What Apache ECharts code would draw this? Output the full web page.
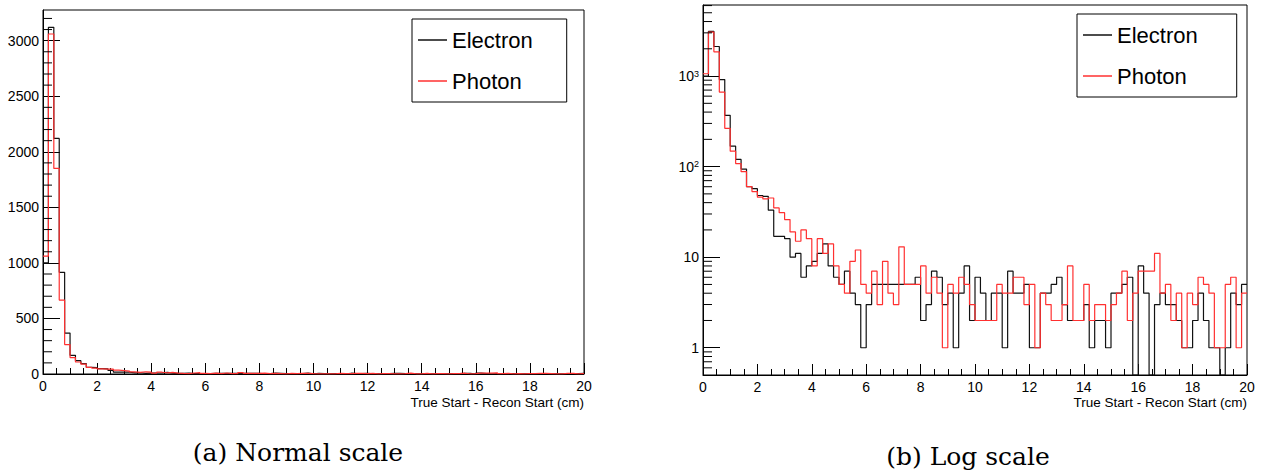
<!DOCTYPE html>
<html><head><meta charset="utf-8">
<script src="https://cdn.jsdelivr.net/npm/echarts@6/dist/echarts.min.js"></script>
<style>html,body{margin:0;padding:0;background:#fff;}#c{width:1265px;height:470px;}</style>
</head><body><div id="c"></div>
<script>
// ---- data: 100 bins of 0.2 cm from 0 to 20 ----
const BIN_WIDTH = 0.2;
const X_MIN = 0, X_MAX = 20;
const seriesNames = ['Electron', 'Photon'];
const electron = [1000,3120,2120,915,368,168,120,94,60,57,
  48,47,33,17,17,16,10,11,6,8,
  9,11,14,8,6,5,7,4,3,1,
  3,5,5,5,5,5,5,5,5,6,
  2,3,7,6,3,4,1,4,8,2,
  6,4,2,4,4,1,7,4,4,5,
  1,1,4,4,5,6,3,2,2,2,
  3,1,2,2,1,4,4,5,6,0,
  8,4,0,3,4,3,3,2,1,1,
  2,4,2,1,1,0,1,4,3,5];
const photon = [1060,3060,1850,665,265,148,108,88,60,53,
  46,44,45,35,31,26,19,15,20,16,
  8,16,11,14,8,5,4,9,12,5,
  4,7,3,9,4,3,13,5,5,5,
  8,4,6,4,1,5,4,6,5,3,
  2,2,2,2,5,4,4,6,6,3,
  5,1,4,3,2,2,3,8,2,2,
  5,2,3,3,2,3,4,7,2,4,
  7,7,7,11,4,5,2,4,1,4,
  3,6,5,4,1,1,5,6,1,4];
const xTickLabels = ['0','2','4','6','8','10','12','14','16','18','20'];
const linTickLabels = ['0','500','1000','1500','2000','2500','3000'];
const LIN_MAX = 3276;
const LOG_MIN = 0.5, LOG_MAX = 6090;

// ---- build step data ----
function stepData(vals, floor) {
  const d = vals.map((v, i) => [+(i * BIN_WIDTH).toFixed(2), floor != null ? Math.max(v, floor) : v]);
  d.push([X_MAX, d[d.length - 1][1]]);
  return d;
}
const logMinor = [];
for (let e = -1; e <= 3; e++) for (let m = 2; m <= 9; m++) {
  const v = +(m * Math.pow(10, e)).toPrecision(3);
  if (v > LOG_MIN && v < LOG_MAX) logMinor.push([0, v]);
}
const linMinor = [];
for (let v = 100; v < LIN_MAX; v += 100) if (v % 500 !== 0) linMinor.push([0, v]);

const FONT = '"Liberation Sans", Arial, Helvetica, sans-serif';
const colors = {Electron: '#111111', Photon: '#ff3030'};

function xAxis(gi) {
  return {
    type: 'value', gridIndex: gi, min: X_MIN, max: X_MAX, interval: 2,
    axisLine: {show: true, lineStyle: {color: '#000', width: 1}},
    axisTick: {show: true, inside: true, length: 11, lineStyle: {color: '#000'}},
    minorTick: {show: true, splitNumber: 4, length: 6, lineStyle: {color: '#000'}},
    splitLine: {show: false}, minorSplitLine: {show: false},
    axisLabel: {color: '#000', fontSize: 14, fontFamily: FONT, margin: 5,
      formatter: v => xTickLabels[Math.round(v / 2)] ?? ''}
  };
}
function minorTickSeries(xi, yi, data) {
  return {name: 'minorTicks' + yi, type: 'custom', xAxisIndex: xi, yAxisIndex: yi, silent: true,
    data: data, encode: {x: 0, y: 1}, z: 5,
    renderItem: (params, api) => {
      const p = api.coord([0, api.value(1)]);
      return {type: 'line', shape: {x1: p[0], y1: p[1], x2: p[0] + 9, y2: p[1]}, style: {stroke: '#000', lineWidth: 1}};
    }};
}

const option = {
  animation: false,
  grid: [
    {left: 43, top: 10, width: 541, height: 364, show: true, borderColor: '#000', borderWidth: 1, backgroundColor: 'transparent'},
    {left: 703, top: 5, width: 544, height: 370, show: true, borderColor: '#000', borderWidth: 1, backgroundColor: 'transparent'}
  ],
  xAxis: [xAxis(0), xAxis(1)],
  yAxis: [
    {type: 'value', gridIndex: 0, min: 0, max: LIN_MAX, interval: 500,
      axisLine: {show: true, lineStyle: {color: '#000'}},
      axisTick: {show: true, inside: true, length: 17, lineStyle: {color: '#000'}},
      splitLine: {show: false},
      axisLabel: {color: '#000', fontSize: 14, fontFamily: FONT, margin: 4, showMaxLabel: false,
        formatter: v => linTickLabels[Math.round(v / 500)] ?? ''}},
    {type: 'log', logBase: 10, gridIndex: 1, min: LOG_MIN, max: LOG_MAX,
      axisLine: {show: true, lineStyle: {color: '#000'}},
      axisTick: {show: true, inside: true, length: 17, lineStyle: {color: '#000'}},
      splitLine: {show: false},
      axisLabel: {color: '#000', fontSize: 14, fontFamily: FONT, margin: 4,
        showMinLabel: false, showMaxLabel: false,
        formatter: v => {
          const l = Math.log10(v), r = Math.round(l);
          if (Math.abs(l - r) > 1e-6) return '';
          if (r === 0) return '1';
          if (r === 1) return '10';
          return '10{sup|' + r + '}';
        },
        rich: {sup: {fontSize: 9, fontFamily: FONT, color: '#000', verticalAlign: 'top'}}}}
  ],
  legend: [
    {left: 412, top: 19, orient: 'vertical', data: seriesNames, icon: 'rect', itemWidth: 29, itemHeight: 1.5,
      itemGap: 19, padding: [10, 34, 10, 6], borderColor: '#000', borderWidth: 1, backgroundColor: '#fff',
      textStyle: {fontSize: 22, fontFamily: FONT, color: '#000'}, selectedMode: false},
    {left: 1077, top: 14, orient: 'vertical', data: seriesNames, icon: 'rect', itemWidth: 29, itemHeight: 1.5,
      itemGap: 19, padding: [10, 39, 10, 6], borderColor: '#000', borderWidth: 1, backgroundColor: '#fff',
      textStyle: {fontSize: 22, fontFamily: FONT, color: '#000'}, selectedMode: false}
  ],
  series: [
    {name: 'Electron', type: 'line', xAxisIndex: 0, yAxisIndex: 0, step: 'end', symbol: 'none',
      data: stepData(electron), itemStyle: {color: colors.Electron}, lineStyle: {color: colors.Electron, width: 1.2}},
    {name: 'Photon', type: 'line', xAxisIndex: 0, yAxisIndex: 0, step: 'end', symbol: 'none',
      data: stepData(photon), itemStyle: {color: colors.Photon}, lineStyle: {color: colors.Photon, width: 1.2}},
    {name: 'Electron', type: 'line', xAxisIndex: 1, yAxisIndex: 1, step: 'end', symbol: 'none',
      data: stepData(electron, LOG_MIN), itemStyle: {color: colors.Electron}, lineStyle: {color: colors.Electron, width: 1.2}},
    {name: 'Photon', type: 'line', xAxisIndex: 1, yAxisIndex: 1, step: 'end', symbol: 'none',
      data: stepData(photon, LOG_MIN), itemStyle: {color: colors.Photon}, lineStyle: {color: colors.Photon, width: 1.2}},
    minorTickSeries(0, 0, linMinor),
    minorTickSeries(1, 1, logMinor)
  ],
  graphic: [
    {type: 'text', x: 584, y: 402, style: {text: 'True Start - Recon Start (cm)', font: '13.5px ' + FONT, fill: '#000', align: 'right', verticalAlign: 'middle'}},
    {type: 'text', x: 1247, y: 402, style: {text: 'True Start - Recon Start (cm)', font: '13.5px ' + FONT, fill: '#000', align: 'right', verticalAlign: 'middle'}},
    {type: 'text', x: 298, y: 452, style: {text: '(a) Normal scale', font: '25px "DejaVu Serif", serif', fill: '#000', align: 'center', verticalAlign: 'middle'}},
    {type: 'text', x: 968, y: 456, style: {text: '(b) Log scale', font: '25px "DejaVu Serif", serif', fill: '#000', align: 'center', verticalAlign: 'middle'}}
  ]
};
const chart = echarts.init(document.getElementById('c'), null, {renderer: 'svg'});
chart.setOption(option);
</script></body></html>
